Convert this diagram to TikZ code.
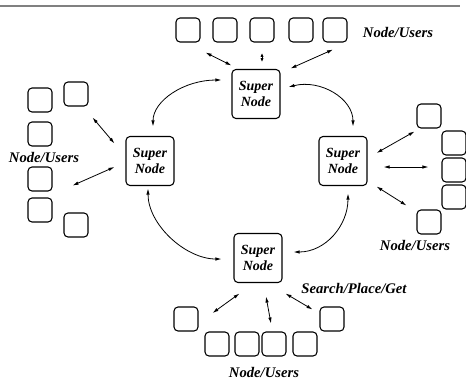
\documentclass[tikz,border=0pt]{standalone}
\usepackage{fontspec}
\setmainfont{Liberation Serif}
\usetikzlibrary{arrows.meta}

\begin{document}
\begin{tikzpicture}[x=0.75pt, y=-0.75pt,
  super/.style={draw, line width=0.8pt, rounded corners=3pt, minimum width=36pt, minimum height=36.75pt, inner sep=0pt, align=center, font=\fontsize{10.5}{11.5}\selectfont\bfseries\itshape},
  user/.style={draw, line width=0.8pt, rounded corners=3pt, minimum size=18pt, inner sep=0pt},
  lbl/.style={font=\fontsize{11}{12}\selectfont\bfseries\itshape},
  link/.style={{Latex[length=4.5pt,width=2.6pt]}-{Latex[length=4.5pt,width=2.6pt]}, line width=0.6pt},
  shortlink/.style={{Latex[length=2.8pt,width=2.4pt]}-{Latex[length=2.8pt,width=2.4pt]}, line width=0.6pt}]

\useasboundingbox (0,0) rectangle (466,379);

% Rule on top
\draw[line width=1.5pt, black!50] (0,5.5) -- (460,5.5);

% Super nodes
\node[super] (top) at (256,94) {Super\\Node};
\node[super] (left) at (150,161) {Super\\Node};
\node[super] (right) at (343,161) {Super\\Node};
\node[super] (bottom) at (258,258) {Super\\Node};

% Users on top
\node[user] (t1) at (188,30) {};
\node[user] (t2) at (225,30) {};
\node[user] (t3) at (262,30) {};
\node[user] (t4) at (301,30) {};
\node[user] (t5) at (335,30) {};
\node[lbl] (ltop) at (398,32) {Node/Users};

% Users on the left
\node[user] (l1) at (40,100) {};
\node[user] (l2) at (76,94) {};
\node[user] (l3) at (40,134) {};
\node[lbl] (lleft) at (44,157) {Node/Users};
\node[user] (l4) at (40,179) {};
\node[user] (l5) at (40,210) {};
\node[user] (l6) at (76,225) {};

% Users on the right
\node[user] (r1) at (429,116) {};
\node[user] (r2) at (454,143) {};
\node[user] (r3) at (454,170) {};
\node[user] (r4) at (454,197) {};
\node[user] (r5) at (429,222) {};
\node[lbl] (lright) at (415,245) {Node/Users};

% Users at the bottom
\node[user] (b1) at (186,319) {};
\node[user] (b2) at (217,344) {};
\node[user] (b3) at (247,344) {};
\node[user] (b4) at (274,344) {};
\node[user] (b5) at (305,344) {};
\node[user] (b6) at (332,319) {};
\node[lbl] (lbottom) at (264,372) {Node/Users};
\node[lbl] (spg) at (354,288) {Search/Place/Get};

% Ring between super nodes
\draw[link] ([shift={(-10,-14)}]top.west) .. controls +(-37,0) and +(0,-26) .. ([shift={(3,-9.5)}]left.north);
\draw[link] ([shift={(8,-7)}]top.east) .. controls +(32,-8) and +(0,-28) .. ([shift={(10,-9.5)}]right.north);
\draw[link] ([shift={(5,7.5)}]right.south) .. controls +(0,32) and +(32,0) .. ([shift={(11,-6)}]bottom.east);
\draw[link] ([shift={(-2,2.5)}]left.south) .. controls +(0,36) and +(-36,0) .. ([shift={(-12,1)}]bottom.west);

% Links to the users
\draw[link] ([shift={(0,-3.5)}]top.north west) -- ([shift={(5,10)}]t1.south east);
\draw[shortlink] ([shift={(6,-7)}]top.north) -- ([shift={(0,10.5)}]t3.south);
\draw[link] ([shift={(10,-0.5)}]top.north east) -- ([shift={(-2,7)}]t5.south);

\draw[link] ([shift={(-11,7.5)}]left.north west) -- ([shift={(4,11)}]l2.south east);
\draw[link] ([shift={(-11,6)}]left.west) -- ([shift={(20,-6)}]l4.south east);

\draw[link] ([shift={(9,-8)}]right.east) -- ([shift={(-2,3)}]r1.south west);
\draw[link] ([shift={(16,6)}]right.east) -- ([shift={(-13,-3)}]r3.west);
\draw[link] ([shift={(9,0.5)}]right.south east) -- ([shift={(-10,-4)}]r5.north west);

\draw[link] ([shift={(6,10.5)}]bottom.south west) -- ([shift={(14,-6)}]b1.east);
\draw[link] ([shift={(8,13.5)}]bottom.south) -- ([shift={(-3,-8)}]b4.north);
\draw[link] ([shift={(3,10.5)}]bottom.south east) -- ([shift={(-7,3)}]b6.north west);

\end{tikzpicture}
\end{document}
